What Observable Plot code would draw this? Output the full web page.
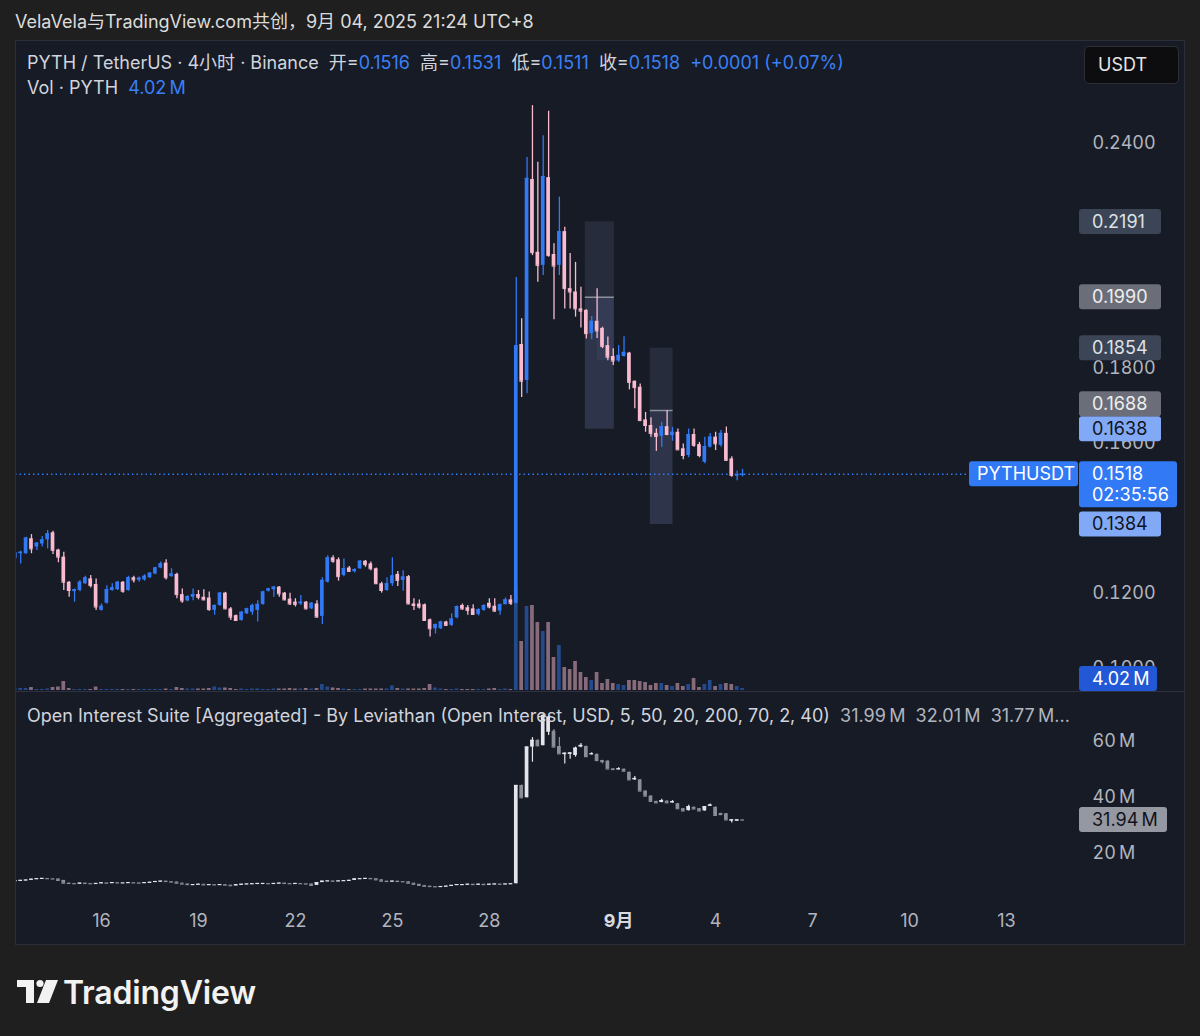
<!DOCTYPE html>
<html lang="zh">
<head>
<meta charset="utf-8">
<script src="https://cdn.jsdelivr.net/npm/d3@7"></script>
<script src="https://cdn.jsdelivr.net/npm/@observablehq/plot@0.6"></script>
<style>
  html, body { margin:0; padding:0; background:#1f1f1f; }
  body { width:1200px; height:1036px; position:relative; overflow:hidden;
         font-family: Inter, "Noto Sans CJK SC", sans-serif; }
  #hdr { position:absolute; left:15px; top:10px; font-size:18px; color:#dcdcdc; white-space:nowrap; line-height:24px; }
  #panel { position:absolute; left:15px; top:40px; width:1170px; height:905px; background:#171b26; overflow:hidden; }
  #panel .layer { position:absolute; left:0; }
  #frame { position:absolute; left:0; top:0; right:0; bottom:0; border:1px solid #2b2f3a; pointer-events:none; }
  .leg { position:absolute; left:12px; font-size:18px; color:#d1d4dc; white-space:pre; line-height:24px; }
  .val { color:#3a80f6; }
  .dim { color:#b2b5be; }
  #sep { position:absolute; left:0; top:651px; width:1170px; height:1px; background:#2e3240; }
  #usdt { position:absolute; left:1069px; top:6px; width:95px; height:38px; box-sizing:border-box;
          background:#0d0d0f; border:1px solid #2e2f33; border-radius:5px; color:#e6e6e6;
          font-size:18px; line-height:36px; padding-left:13px; }
  #logo { position:absolute; left:15px; top:974px; }
</style>
</head>
<body>
<div id="hdr">VelaVela与TradingView.com共创，9月 04, 2025 21:24 UTC+8</div>
<div id="panel">
  <div id="volLayer" class="layer" style="top:0"></div>
  <div id="priceLayer" class="layer" style="top:0"></div>
  <div id="sep"></div>
  <div id="oiLayer" class="layer" style="top:652px"></div>
  <div id="leg1" class="leg" style="top:11px"></div>
  <div id="leg2" class="leg" style="top:36px"></div>
  <div id="leg3" class="leg" style="top:664px"></div>
  <div id="usdt">USDT</div>
  <div id="frame"></div>
</div>
<svg id="logo" width="260" height="40" viewBox="0 0 260 40">
  <path d="M2 6 H19 V29 H11 V13 H2 Z" fill="#f2f2f2"/>
  <circle cx="25" cy="9.5" r="3.6" fill="#f2f2f2"/>
  <path d="M31 6 H43 L34 29 H22 Z" fill="#f2f2f2"/>
  <text x="48" y="29.5" font-size="32" font-weight="600" fill="#f2f2f2" font-family="Inter, sans-serif" letter-spacing="-0.2">TradingView</text>
</svg>
<script>
// ---------------- data ----------------
const firstBarUTC8 = Date.UTC(2025, 7, 13, 8);   // first 4h bar: Aug 13 08:00 (UTC+8 wall time)
const barHours = 4;

const open = [
0.1293,0.1306,0.1306,0.1346,0.1324,0.1332,0.1343,0.1362,0.1316,0.1297,
0.1230,0.1205,0.1208,0.1226,0.1239,0.1224,0.1155,0.1174,0.1208,0.1210,
0.1230,0.1208,0.1242,0.1235,0.1236,0.1242,0.1252,0.1268,0.1281,0.1245,
0.1251,0.1197,0.1180,0.1190,0.1197,0.1190,0.1188,0.1155,0.1168,0.1201,
0.1159,0.1141,0.1128,0.1146,0.1150,0.1155,0.1171,0.1206,0.1210,0.1217,
0.1201,0.1185,0.1177,0.1172,0.1177,0.1159,0.1172,0.1139,0.1230,0.1295,
0.1290,0.1248,0.1268,0.1258,0.1266,0.1286,0.1279,0.1266,0.1226,0.1208,
0.1226,0.1251,0.1235,0.1245,0.1172,0.1172,0.1170,0.1130,0.1106,0.1106,
0.1124,0.1115,0.1135,0.1168,0.1162,0.1159,0.1144,0.1155,0.1174,0.1166,
0.1153,0.1170,0.1183,
0.1174,0.1864,0.1768,0.2304,0.2110,0.2075,0.2309,0.2104,0.2075,0.2165,
0.2013,0.2004,0.1959,0.1955,0.1893,0.1926,0.1907,0.1861,0.1832,0.1820,
0.1832,0.1841,0.1766,0.1750,0.1663,0.1648,0.1627,0.1619,0.1645,0.1621,
0.1630,0.1586,0.1568,0.1624,0.1597,0.1550,0.1590,0.1617,0.1595,0.1627,
0.1559,0.1513,0.1516];
const high = [
0.1310,0.1313,0.1350,0.1357,0.1336,0.1352,0.1368,0.1366,0.1318,0.1310,
0.1232,0.1212,0.1235,0.1246,0.1248,0.1239,0.1172,0.1221,0.1226,0.1232,
0.1232,0.1246,0.1246,0.1244,0.1250,0.1256,0.1270,0.1284,0.1290,0.1266,
0.1254,0.1212,0.1194,0.1212,0.1208,0.1210,0.1204,0.1170,0.1203,0.1203,
0.1163,0.1143,0.1152,0.1161,0.1172,0.1181,0.1206,0.1214,0.1219,0.1219,
0.1203,0.1201,0.1186,0.1195,0.1179,0.1176,0.1181,0.1242,0.1301,0.1301,
0.1295,0.1292,0.1272,0.1266,0.1288,0.1288,0.1284,0.1268,0.1230,0.1242,
0.1295,0.1259,0.1261,0.1248,0.1186,0.1183,0.1172,0.1132,0.1119,0.1126,
0.1126,0.1146,0.1167,0.1172,0.1168,0.1170,0.1159,0.1170,0.1186,0.1186,
0.1172,0.1188,0.1195,
0.2043,0.1933,0.2363,0.2501,0.2350,0.2421,0.2486,0.2133,0.2257,0.2177,
0.2107,0.2083,0.2017,0.1957,0.1939,0.2013,0.1910,0.1884,0.1853,0.1861,
0.1885,0.1843,0.1767,0.1759,0.1683,0.1669,0.1639,0.1657,0.1688,0.1643,
0.1639,0.1599,0.1639,0.1639,0.1603,0.1617,0.1627,0.1630,0.1635,0.1644,
0.1565,0.1527,0.1531];
const low = [
0.1284,0.1279,0.1305,0.1306,0.1315,0.1324,0.1319,0.1304,0.1282,0.1208,
0.1190,0.1177,0.1205,0.1224,0.1215,0.1155,0.1153,0.1172,0.1206,0.1208,
0.1201,0.1206,0.1228,0.1230,0.1233,0.1240,0.1250,0.1266,0.1236,0.1243,
0.1186,0.1174,0.1178,0.1181,0.1183,0.1181,0.1153,0.1142,0.1166,0.1157,
0.1128,0.1126,0.1126,0.1144,0.1142,0.1124,0.1169,0.1204,0.1190,0.1190,
0.1181,0.1168,0.1164,0.1168,0.1157,0.1157,0.1135,0.1117,0.1228,0.1281,
0.1233,0.1245,0.1256,0.1255,0.1264,0.1270,0.1261,0.1224,0.1201,0.1206,
0.1219,0.1219,0.1206,0.1171,0.1155,0.1159,0.1126,0.1084,0.1092,0.1104,
0.1112,0.1112,0.1133,0.1155,0.1142,0.1142,0.1140,0.1153,0.1159,0.1150,
0.1142,0.1170,0.1168,
0.1172,0.1723,0.1733,0.2101,0.2030,0.2048,0.2097,0.1930,0.2048,0.1959,
0.1959,0.1937,0.1908,0.1879,0.1877,0.1880,0.1853,0.1821,0.1808,0.1816,
0.1831,0.1743,0.1693,0.1659,0.1630,0.1617,0.1579,0.1590,0.1621,0.1606,
0.1582,0.1557,0.1562,0.1590,0.1562,0.1546,0.1588,0.1581,0.1590,0.1553,
0.1510,0.1501,0.1511];
const close = [
0.1308,0.1310,0.1348,0.1319,0.1334,0.1343,0.1359,0.1315,0.1297,0.1230,
0.1208,0.1210,0.1230,0.1242,0.1221,0.1164,0.1166,0.1210,0.1215,0.1230,
0.1206,0.1242,0.1236,0.1241,0.1246,0.1254,0.1268,0.1279,0.1242,0.1252,
0.1197,0.1180,0.1192,0.1197,0.1190,0.1183,0.1157,0.1168,0.1201,0.1159,
0.1137,0.1128,0.1150,0.1159,0.1168,0.1171,0.1204,0.1212,0.1217,0.1199,
0.1183,0.1172,0.1171,0.1177,0.1159,0.1174,0.1137,0.1235,0.1295,0.1286,
0.1245,0.1266,0.1259,0.1264,0.1286,0.1277,0.1266,0.1226,0.1208,0.1226,
0.1247,0.1235,0.1244,0.1172,0.1168,0.1164,0.1128,0.1106,0.1117,0.1124,
0.1115,0.1132,0.1165,0.1159,0.1155,0.1144,0.1157,0.1168,0.1164,0.1153,
0.1170,0.1183,0.1174,
0.1861,0.1766,0.2307,0.2109,0.2075,0.2312,0.2101,0.2073,0.2165,0.2013,
0.2004,0.1959,0.1953,0.1893,0.1926,0.1900,0.1859,0.1830,0.1820,0.1835,
0.1843,0.1763,0.1749,0.1661,0.1648,0.1627,0.1619,0.1645,0.1624,0.1630,
0.1583,0.1568,0.1624,0.1595,0.1568,0.1592,0.1617,0.1599,0.1627,0.1555,
0.1515,0.1517,0.1518];
// volume, millions of PYTH
const volume = [
3,4,4,6,2,2,3,6,7,18, 4,2,2,2,2,7,2,2,2,2, 2,2,2,2,2,2,2,2,3,2,
6,4,3,3,3,3,4,7,5,5, 4,2,3,2,3,3,2,2,3,3, 3,4,3,3,4,3,4,12,7,5,
4,3,2,2,2,3,3,3,3,3, 9,4,3,3,3,3,4,12,5,3, 2,2,3,2,2,2,2,2,3,4,
2,3,2,
200,98,168,170,136,118,136,66,90,46, 42,58,36,26,20,36,14,22,14,12,
10,20,20,18,16,10,14,14,10,8, 14,8,12,24,6,12,20,8,12,14,
12,8,4.02];

// Open interest (USD, millions): closes before the pump, full OHLC after it
const oiClosePre = [
10.3,10.4,10.5,10.8,11.0,11.1,11.0,10.9,10.4,9.4,
9.3,9.2,9.4,9.3,9.2,9.3,9.5,9.4,9.6,9.5,
9.5,9.6,9.5,9.4,9.6,9.7,10.0,10.1,10.0,9.8,
9.4,9.1,8.9,8.9,9.0,8.8,8.9,8.8,8.9,8.7,
8.5,8.8,9.0,9.1,9.2,9.3,9.3,9.2,9.3,9.4,
9.3,9.2,9.3,9.2,9.1,8.6,9.6,10.1,10.2,10.1,
10.2,10.3,10.4,10.9,11.0,11.1,11.0,10.6,10.1,10.0,
10.1,10.0,9.9,9.4,9.0,8.6,8.3,8.2,8.1,8.2,
8.3,8.6,8.9,8.9,9.0,8.9,9.0,8.9,9.0,9.1,
9.0,9.1,9.2];
const oiOpenPost  = [9.2,44.3,39.9,58.0,60.4,58.5,63.3,63.7,58.2,55.3,55.4,55.0,58.0,58.2,55.4,55.4,53.2,53.0,50.2,50.0,50.1,49.0,46.3,46.3,42.3,40.5,38.6,38.2,38.7,38.1,37.8,36.0,35.3,36.5,36.0,35.2,36.9,36.5,34.3,34.2,31.6,31.6,31.99];
const oiHighPost  = [44.3,44.5,58.0,61.4,60.6,69.6,68.9,64.3,61.4,55.9,56.0,58.0,59.3,58.4,56.0,55.5,53.3,53.1,50.3,50.6,50.2,49.1,47.5,46.4,42.4,40.6,38.7,39.4,38.8,38.9,37.9,36.1,37.2,36.6,36.1,36.8,37.7,36.6,34.4,34.3,32.1,32.0,32.01];
const oiLowPost   = [9.2,39.9,39.9,52.6,58.0,58.5,62.1,58.0,55.6,52.0,53.7,54.4,57.8,54.6,55.2,53.2,52.0,50.2,49.9,49.9,49.3,46.3,46.1,42.3,40.5,38.6,38.0,38.1,38.0,38.0,36.0,35.1,35.2,35.8,35.1,35.1,36.8,33.6,33.8,32.0,30.9,31.5,31.77];
const oiClosePost = [44.3,39.9,58.0,60.4,58.5,69.3,68.7,58.0,55.6,55.8,55.9,57.6,58.6,54.6,55.6,53.2,52.8,50.2,50.0,50.2,49.4,46.3,46.8,42.3,40.5,38.6,38.1,38.9,38.1,38.5,36.0,35.2,36.7,35.9,35.2,36.7,37.3,33.6,33.9,32.0,32.0,31.99,31.94];

// drawn zones (time span, top / middle line / bottom prices)
const zoneStart  = ["2025-08-30T23:15Z", "2025-09-01T23:30Z"];
const zoneEnd    = ["2025-08-31T20:50Z", "2025-09-02T16:25Z"];
const zoneTop    = [0.2191, 0.1854];
const zoneMid    = [0.1990, 0.1688];
const zoneBottom = [0.1638, 0.1384];
const zoneInnerStart = ["2025-08-31T08:10Z"];
const zoneInnerEnd   = ["2025-08-31T20:50Z"];
const zoneInnerTop   = [0.1990];
const zoneInnerBottom= [0.1821];

// axis tick labels the reference shows (others are hidden under the price tags)
const priceTicks = [0.24, 0.18, 0.16, 0.12, 0.10];
const oiTicks = [20, 40, 60];
const xTickDates  = ["2025-08-16","2025-08-19","2025-08-22","2025-08-25","2025-08-28","2025-09-01","2025-09-04","2025-09-07","2025-09-10","2025-09-13"];
const xTickLabels = ["16","19","22","25","28","9月","4","7","10","13"];
const xTickIsMonth = [false,false,false,false,false,true,false,false,false,false];

const symbolName = "PYTHUSDT";
const countdown = "02:35:56";
const oiLegendValues = ["31.99\u2009M", "32.01\u2009M", "31.77\u2009M..."];

// ---------------- build ----------------
const HOUR = 3600e3;
const UP = "#3179f5", DN = "#f8bbd0";
const OI_UP = "#e4e5ea", OI_DN = "#8b8e98";
const FONT = 'Inter, "Noto Sans CJK SC", sans-serif';
const half = 1.37 * HOUR;
const W = 1170;

const bars = open.map((o, i) => ({
  t: new Date(firstBarUTC8 + i * barHours * HOUR),
  o, h: high[i], l: low[i], c: close[i], v: volume[i]
}));
bars.forEach(b => { b.up = b.c >= b.o; b.col = b.up ? UP : DN; b.x1 = new Date(+b.t - half); b.x2 = new Date(+b.t + half); });

const nPre = oiClosePre.length;
const oi = bars.map((b, i) => {
  let o, h, l, c;
  if (i < nPre) { c = oiClosePre[i]; o = i ? oiClosePre[i - 1] : c; h = Math.max(o, c); l = Math.min(o, c); }
  else { const j = i - nPre; o = oiOpenPost[j]; h = oiHighPost[j]; l = oiLowPost[j]; c = oiClosePost[j]; }
  return { t: b.t, x1: b.x1, x2: b.x2, o, h, l, c, col: c >= o ? OI_UP : OI_DN };
});

const zones = zoneStart.map((s, i) => ({ start: new Date(s), end: new Date(zoneEnd[i]), top: zoneTop[i], mid: zoneMid[i], bottom: zoneBottom[i] }));
const inner = zoneInnerStart.map((s, i) => ({ start: new Date(s), end: new Date(zoneInnerEnd[i]), top: zoneInnerTop[i], bottom: zoneInnerBottom[i] }));
const xTicks = xTickDates.map((d, i) => ({ date: new Date(d), label: xTickLabels[i], month: xTickIsMonth[i] }));

const xOpts = { type: "utc", domain: [new Date("2025-08-16"), new Date("2025-09-13")], range: [86, 991] };
const baseStyle = { background: "transparent", color: "#b2b5be", fontFamily: FONT, fontSize: "18px", overflow: "visible" };

// volume layer (beneath candles)
const volPlot = Plot.plot({
  width: W, height: 652, marginLeft: 0, marginRight: 110, marginTop: 0, marginBottom: 0,
  style: baseStyle,
  x: { ...xOpts, axis: null },
  y: { domain: [0, 200], range: [650, 550], axis: null },
  marks: [
    Plot.rect(bars, { x1: "x1", x2: "x2", y1: 0, y2: "v", fill: "col", fillOpacity: 0.5 })
  ]
});
document.getElementById("volLayer").appendChild(volPlot);

const last = bars[bars.length - 1];
const prev = bars[bars.length - 2];
const pricePlot = Plot.plot({
  width: W, height: 652, marginLeft: 0, marginRight: 110, marginTop: 0, marginBottom: 0,
  style: baseStyle,
  x: { ...xOpts, axis: null },
  y: { domain: [0.24, 0.12], range: [103, 553], axis: null },
  marks: [
    Plot.rect(zones, { x1: "start", x2: "end", y1: "top", y2: "bottom", fill: "#8f9fd6", fillOpacity: 0.13 }),
    Plot.rect(zones, { x1: "start", x2: "end", y1: "mid", y2: "bottom", fill: "#8f9fd6", fillOpacity: 0.08 }),
    Plot.rect(inner, { x1: "start", x2: "end", y1: "top", y2: "bottom", fill: "#8f9fd6", fillOpacity: 0.08 }),
    Plot.ruleY(zones, { y: "mid", x1: "start", x2: "end", stroke: "#8d909a", strokeWidth: 1.5 }),
    Plot.ruleY([last.c], { stroke: UP, strokeDasharray: "1.5,3", strokeWidth: 1.3 }),
    Plot.ruleX(bars, { x: "t", y1: "l", y2: "h", stroke: "col", strokeWidth: 1.3 }),
    Plot.rect(bars, { x1: "x1", x2: "x2", y1: "o", y2: "c", fill: "col" }),
    Plot.ruleY(bars, { y: "c", x1: "x1", x2: "x2", stroke: "col", strokeWidth: 1 }),
    Plot.axisY(priceTicks, { anchor: "right", tickSize: 0, tickPadding: 17, tickFormat: d => d.toFixed(4), fill: "#b2b5be" })
  ]
});
document.getElementById("priceLayer").appendChild(pricePlot);

// price tags drawn on top, positioned through the plots' own scales
const yP = pricePlot.scale("y"), yV = volPlot.scale("y");
const psvg = d3.select(pricePlot);
function tag(svg, yc, { x = 1064, w = 82, h = 25, bg, fg, lines, tx = 1077 }) {
  const g = svg.append("g");
  g.append("rect").attr("x", x).attr("y", yc - 12.5).attr("width", w).attr("height", h).attr("rx", 3).attr("fill", bg);
  lines.forEach((s, k) => g.append("text").attr("x", tx).attr("y", yc + k * 21).attr("dy", "0.35em")
    .attr("fill", fg).attr("text-anchor", "start").style("font-size", "18px").style("font-family", FONT).text(s));
}
// zone tags, stacked upward when they would overlap (as the price scale does)
const zoneTags = [];
zones.forEach(z => {
  zoneTags.push({ v: z.top,    bg: "#3c4556", fg: "#dfe1e6" });
  zoneTags.push({ v: z.mid,    bg: "#6b6e79", fg: "#eeeeee" });
  zoneTags.push({ v: z.bottom, bg: "#82a9f6", fg: "#10131b" });
});
zoneTags.forEach(t => t.y = yP.apply(t.v));
zoneTags.sort((a, b) => b.y - a.y);
for (let k = 1; k < zoneTags.length; k++) {
  const below = zoneTags[k - 1], cur = zoneTags[k];
  if (cur.y > below.y - 25) cur.y = below.y - 25;
}
zoneTags.forEach(t => tag(psvg, t.y, { bg: t.bg, fg: t.fg, lines: [t.v.toFixed(4)] }));

const yl = yP.apply(last.c);
tag(psvg, yl, { x: 954, w: 109, bg: UP, fg: "#ffffff", lines: [symbolName], tx: 962 });
tag(psvg, yl, { w: 98, h: 46, bg: UP, fg: "#ffffff", lines: [last.c.toFixed(4), countdown] });
tag(psvg, Math.min(yV.apply(last.v), 652 - 13.5), { w: 78, bg: "#2257d6", fg: "#ffffff", lines: [last.v.toFixed(2) + "\u2009M"] });

// open interest pane
const oiPlot = Plot.plot({
  width: W, height: 253, marginLeft: 0, marginRight: 110, marginTop: 0, marginBottom: 30,
  style: baseStyle,
  x: { ...xOpts, axis: null },
  y: { domain: [60, 20], range: [49, 161], axis: null },
  marks: [
    Plot.ruleX(oi, { x: "t", y1: "l", y2: "h", stroke: "col", strokeWidth: 1.2 }),
    Plot.rect(oi, { x1: "x1", x2: "x2", y1: "o", y2: "c", fill: "col" }),
    Plot.ruleY(oi, { y: "c", x1: "x1", x2: "x2", stroke: "col", strokeWidth: 1.2 }),
    Plot.axisY(oiTicks, { anchor: "right", tickSize: 0, tickPadding: 17, tickFormat: d => d + "\u2009M", fill: "#b2b5be" }),
    Plot.text(xTicks.filter(d => !d.month), { x: "date", text: "label", frameAnchor: "bottom", dy: 11, fill: "#b2b5be" }),
    Plot.text(xTicks.filter(d => d.month), { x: "date", text: "label", frameAnchor: "bottom", dy: 11, fill: "#d8dae0", fontWeight: "bold" })
  ]
});
document.getElementById("oiLayer").appendChild(oiPlot);
const lastOi = oi[oi.length - 1];
tag(d3.select(oiPlot), oiPlot.scale("y").apply(lastOi.c), { w: 88, bg: "#9598a1", fg: "#10131b", lines: [lastOi.c.toFixed(2) + "\u2009M"] });

// legends
const chg = last.c - prev.c;
const pct = chg / prev.c * 100;
const sgn = v => (v >= 0 ? "+" : "");
document.getElementById("leg1").innerHTML =
  `PYTH / TetherUS · 4小时 · Binance  开=<span class="val">${last.o.toFixed(4)}</span>  高=<span class="val">${last.h.toFixed(4)}</span>  低=<span class="val">${last.l.toFixed(4)}</span>  收=<span class="val">${last.c.toFixed(4)}</span>  <span class="val">${sgn(chg)}${chg.toFixed(4)} (${sgn(pct)}${pct.toFixed(2)}%)</span>`;
document.getElementById("leg2").innerHTML = `Vol · PYTH  <span class="val">${last.v.toFixed(2)}\u2009M</span>`;
document.getElementById("leg3").innerHTML =
  `Open Interest Suite [Aggregated] - By Leviathan (Open Interest, USD, 5, 50, 20, 200, 70, 2, 40)  <span class="dim">${oiLegendValues.join("  ")}</span>`;
</script>
</body>
</html>
